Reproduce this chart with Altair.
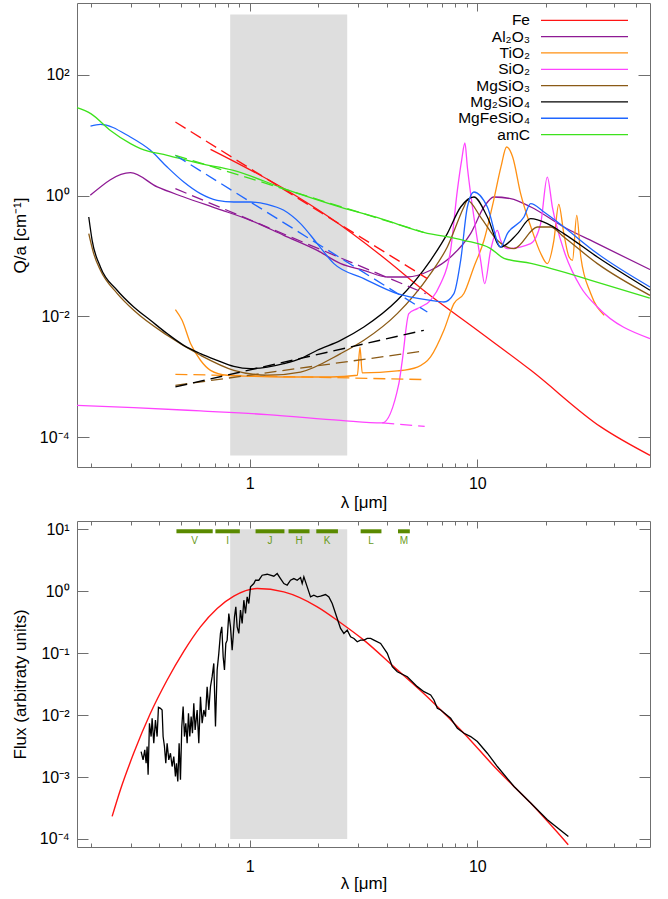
import altair as alt
import numpy as np
import pandas as pd

FONT = "Liberation Sans"
FRAME = "#6f6f6f"

# ---------------- axes (shared wavelength axis) ----------------
x_domain = [0.174, 57.4]
x_major = [1, 10]
x_major_labels = ["1", "10"]
x_minor = [0.2, 0.3, 0.4, 0.5, 0.6, 0.7, 0.8, 0.9, 2, 3, 4, 5, 6, 7, 8, 9, 20, 30, 40, 50]

q_domain = [3.21e-5, 1545]
q_major = [1e-4, 1e-2, 1, 1e2]
q_major_labels = ["10⁻⁴", "10⁻²", "10⁰", "10²"]

flux_domain = [7.41e-5, 13.6]
flux_major = [1e-4, 1e-3, 1e-2, 1e-1, 1, 10]
flux_major_labels = ["10⁻⁴", "10⁻³", "10⁻²", "10⁻¹", "10⁰", "10¹"]

shade_lam = [0.82, 2.68]
shade_q = [5.0e-5, 1.0e3]
shade_flux = [1.0e-4, 10.0]

# ---------------- top panel: Q/a curves ----------------
series_names = ["Fe", "Al₂O₃", "TiO₂", "SiO₂", "MgSiO₃", "Mg₂SiO₄", "MgFeSiO₄", "amC"]
series_colors = ["#ff1414", "#8e1a94", "#ff9012", "#ff44ff", "#8a5a16", "#000000", "#1f66ff", "#3de21c"]

fe_lam = [0.672, 1.41, 2.27, 3.76, 6.03, 10.0, 17.2, 34.9, 57.4]
fe_q = [5.84, 1.31, 0.421, 0.103, 0.0241, 0.00589, 0.00128, 0.000148, 0.00005]

al_lam = [0.199, 0.299, 0.392, 0.513, 0.719, 1.007, 1.41, 1.98, 2.51, 3.17, 4.02, 4.92, 6.23, 7.63,
          9.34, 10.7, 11.8, 14.0, 17.2, 24.0, 33.7, 57.4]
al_q = [1.01, 2.40, 1.39, 0.948, 0.609, 0.39, 0.22, 0.124, 0.0748, 0.058, 0.0449, 0.0449, 0.058, 0.0962,
        0.235, 0.648, 0.948, 0.892, 0.648, 0.302, 0.160, 0.0596]

ti_lam = [0.471, 0.504, 0.549, 0.607, 0.672, 0.796, 1.007, 1.41, 2.27, 2.97, 3.05, 3.12, 4.45, 5.45,
          6.23, 7.13, 7.89, 8.73, 9.66, 10.7, 11.8, 12.7, 13.45, 14.3, 15.5, 17.2, 19.0, 20.3, 21.7,
          22.8, 24.0, 25.3, 26.2, 27.35, 28.5, 31.5, 36.1]
ti_q = [0.013, 0.00862, 0.00355, 0.00188, 0.00128, 0.00106, 0.00102, 0.000993, 0.000993, 0.00106,
        0.00311, 0.00116, 0.00125, 0.00145, 0.00213, 0.00589, 0.0163, 0.0239, 0.0658, 0.182, 0.836,
        2.98, 6.38, 4.36, 1.08, 0.302, 0.110, 0.0748, 0.182, 0.718, 0.235, 0.0962, 0.0849, 0.472,
        0.0962, 0.0239, 0.0104]

si_lam = [0.174, 0.309, 0.607, 1.193, 2.51, 3.82, 4.52, 4.68, 5.0, 5.45, 6.23, 6.90, 7.63, 8.17, 8.53,
          8.82, 9.04, 9.66, 10.34, 10.77, 11.44, 12.24, 12.66, 13.55, 17.15, 18.98, 20.3, 21.37, 24.0,
          28.46, 33.7, 57.4]
si_q = [3.37e-4, 3.09e-4, 2.72e-4, 2.37e-4, 1.9e-4, 1.72e-4, 7.7e-4, 1.875e-3, 0.0111, 0.01346,
        0.01848, 0.0349, 0.1243, 1.224, 3.84, 7.43, 2.975, 0.442, 0.0849, 0.0349, 0.1243, 0.2664, 0.182,
        0.1326, 0.1604, 0.344, 2.03, 0.6475, 0.1243, 0.0307, 0.01432, 4.29e-3]

br_lam = [0.196, 0.206, 0.2205, 0.261, 0.309, 0.433, 0.607, 0.851, 1.193, 1.671, 2.506, 3.172, 4.447,
          6.23, 7.38, 8.73, 9.04, 10.34, 12.24, 14.49, 18.36, 21.0, 24.0, 33.7, 57.4]
br_q = [0.235, 0.1096, 0.058, 0.0241, 0.01262, 4.87e-3, 2.27e-3, 1.28e-3, 1.06e-3, 1.2e-3, 2.42e-3,
        4.02e-3, 0.0111, 0.0511, 0.141, 0.6475, 0.836, 0.442, 0.182, 0.1326, 0.302, 0.302, 0.2063,
        0.0748, 0.0223]

bk_lam = [0.196, 0.2028, 0.2205, 0.2611, 0.309, 0.3658, 0.4333, 0.5126, 0.6069, 0.7188, 0.8505, 1.007,
          1.193, 1.411, 1.671, 1.979, 2.506, 3.172, 4.447, 6.23, 7.38, 8.45, 9.66, 11.07, 12.66, 15.0,
          17.15, 20.3, 24.0, 33.7, 57.4]
bk_q = [0.442, 0.182, 0.0658, 0.0271, 0.01432, 8.62e-3, 5.19e-3, 3.32e-3, 2.42e-3, 1.875e-3, 1.49e-3,
        1.37e-3, 1.45e-3, 1.655e-3, 2.0e-3, 2.75e-3, 4.02e-3, 6.68e-3, 0.01848, 0.0849, 0.235, 0.6475,
        0.948, 0.442, 0.141, 0.235, 0.416, 0.344, 0.235, 0.0962, 0.0271]

bl_lam = [0.1995, 0.2205, 0.2985, 0.3658, 0.4333, 0.5126, 0.6069, 0.7188, 0.8505, 1.007, 1.193, 1.411,
          1.671, 1.979, 2.342, 3.172, 4.447, 6.23, 7.13, 7.89, 8.45, 9.04, 9.66, 11.07, 12.66, 13.55,
          16.03, 17.15, 19.63, 24.0, 33.7, 57.4]
bl_q = [14.2, 15.1, 9.34, 5.62, 2.975, 1.68, 1.079, 0.836, 0.783, 0.783, 0.718, 0.571, 0.344, 0.1604,
        0.0748, 0.0423, 0.02385, 0.01848, 0.01731, 0.02385, 0.0849, 0.6475, 1.147, 0.6475, 0.141, 0.235,
        0.442, 0.737, 0.535, 0.302, 0.1096, 0.0307]

am_lam = [0.174, 0.2, 0.244, 0.299, 0.331, 0.434, 0.607, 0.848, 1.41, 2.50, 3.76, 5.81, 8.71, 11.4,
          13.1, 17.2, 33.8, 57.3]
am_q = [28.6, 22.8, 12.0, 7.26, 6.0, 4.65, 3.39, 2.62, 1.31, 0.647, 0.416, 0.247, 0.182, 0.134,
        0.0916, 0.0757, 0.0367, 0.020]

solid_lam = [fe_lam, al_lam, ti_lam, si_lam, br_lam, bk_lam, bl_lam, am_lam]
solid_q = [fe_q, al_q, ti_q, si_q, br_q, bk_q, bl_q, am_q]

# dashed power-law fits: (start lambda, start Q, end lambda, end Q) per series
dash_lam0 = [0.471, 0.471, 0.471, 3.82, 0.471, 0.471, 0.471, 0.471]
dash_q0 = [16.5, 1.306, 1.10e-3, 1.72e-4, 7.2e-4, 6.8e-4, 4.65, 4.65]
dash_lam1 = [6.03, 5.93, 5.93, 5.87, 5.82, 5.82, 6.03, 5.80]
dash_q1 = [0.0422, 0.02385, 8.99e-4, 1.51e-4, 2.67e-3, 5.89e-3, 0.01183, 0.247]

# ---------------- bottom panel ----------------
planck_lam = [0.2483, 0.27, 0.309, 0.3658, 0.4333, 0.5126, 0.6069, 0.7188, 0.8505, 1.078, 1.411,
              1.979, 2.506, 3.172, 4.30, 6.23, 8.73, 12.24, 17.15, 25.1]
planck_flux = [2.31e-4, 6.22e-4, 2.43e-3, 0.01069, 0.0368, 0.107, 0.266, 0.526, 0.831, 1.105, 0.974,
               0.56, 0.31, 0.1623, 0.06, 0.01752, 5.09e-3, 1.305e-3, 3.79e-4, 8.07e-5]

# observed spectrum, read as (log10 lambda, log10 flux)
spectrum = [
    (-0.4777, -2.589), (-0.469, -2.723), (-0.4616, -2.562), (-0.4557, -2.777), (-0.4513, -2.508),
    (-0.4469, -2.965), (-0.441, -2.132), (-0.4337, -2.347), (-0.4293, -2.052), (-0.422, -2.455),
    (-0.4147, -2.079), (-0.4073, -2.347), (-0.4015, -1.875), (-0.3927, -1.891), (-0.3854, -1.918),
    (-0.381, -2.347), (-0.3751, -2.508), (-0.3692, -2.777), (-0.3634, -2.455), (-0.356, -2.723),
    (-0.3487, -2.616), (-0.3414, -2.831), (-0.3341, -2.669), (-0.3268, -2.992), (-0.3223, -2.777),
    (-0.3165, -3.072), (-0.3106, -2.455), (-0.3047, -3.045), (-0.2989, -2.186), (-0.293, -1.864),
    (-0.2871, -2.347), (-0.2813, -2.132), (-0.2754, -2.455), (-0.2695, -1.971), (-0.2637, -2.347),
    (-0.2578, -2.025), (-0.252, -2.293), (-0.2461, -1.810), (-0.2402, -2.240), (-0.2314, -1.918),
    (-0.2241, -2.455), (-0.2168, -1.703), (-0.2094, -2.132), (-0.2021, -1.918), (-0.1948, -2.025),
    (-0.1875, -1.542), (-0.1801, -1.918), (-0.1728, -1.542), (-0.1655, -1.380), (-0.1582, -1.166),
    (-0.1508, -2.186), (-0.1435, -1.273), (-0.1362, -1.004), (-0.1289, -0.682), (-0.123, -0.575),
    (-0.1171, -1.058), (-0.1113, -1.273), (-0.1054, -0.843), (-0.0995, -0.790), (-0.0922, -0.360),
    (-0.0849, -0.575), (-0.0775, -0.951), (-0.0731, -0.736), (-0.0673, -0.414), (-0.0614, -0.252),
    (-0.0556, -0.575), (-0.0482, -0.682), (-0.0409, -0.306), (-0.0336, -0.521), (-0.0262, -0.145),
    (-0.0189, -0.360), (-0.0116, -0.0913), (-0.0043, -0.199), (0.0031, 0.0698), (0.0177, 0.1235),
    (0.0251, 0.1772), (0.0397, 0.1772), (0.0544, 0.2578), (0.0764, 0.2739), (0.1057, 0.2417),
    (0.1204, 0.2847), (0.135, 0.2041), (0.1497, 0.1235), (0.1643, 0.0967), (0.179, 0.1772),
    (0.1937, 0.2041), (0.2083, 0.1772), (0.223, 0.2202), (0.2303, 0.1235), (0.2376, 0.231),
    (0.2523, 0.0698), (0.2669, -0.0913), (0.2816, -0.0645), (0.2963, -0.0913), (0.3109, -0.0806),
    (0.3329, -0.0537), (0.3476, -0.0913), (0.3622, -0.199), (0.3769, -0.360), (0.3915, -0.521),
    (0.3989, -0.6016), (0.4135, -0.682), (0.4284, -0.628), (0.443, -0.736), (0.4577, -0.763),
    (0.4723, -0.8164), (0.487, -0.790), (0.5017, -0.790), (0.5163, -0.763), (0.531, -0.763),
    (0.5456, -0.790), (0.575, -0.843), (0.6043, -1.004), (0.6263, -1.219), (0.6483, -1.300),
    (0.6923, -1.380), (0.7362, -1.541), (0.7655, -1.622), (0.7949, -1.676), (0.8095, -1.756),
    (0.8242, -1.891), (0.8389, -1.918), (0.8828, -2.052), (0.9122, -2.213), (0.9415, -2.293),
    (0.9708, -2.347), (1.0001, -2.428), (1.044, -2.616), (1.088, -2.831), (1.1613, -3.153),
    (1.2346, -3.421), (1.3079, -3.690), (1.4002, -3.959),
]

band_names = ["V", "I", "J", "H", "K", "L", "M"]
band_lo = [0.476, 0.706, 1.06, 1.48, 1.96, 3.07, 4.48]
band_hi = [0.687, 0.904, 1.42, 1.83, 2.44, 3.79, 5.05]

# ---------------- build tables ----------------
rows = []
for name, lams, qs in zip(series_names, solid_lam, solid_q):
    for i, (l, q) in enumerate(zip(lams, qs)):
        rows.append({"series": name, "lam": l, "q": q, "i": i})
solid_df = pd.DataFrame(rows)

drows = []
for name, l0, q0, l1, q1 in zip(series_names, dash_lam0, dash_q0, dash_lam1, dash_q1):
    drows.append({"series": name, "lam": l0, "q": q0})
    drows.append({"series": name, "lam": l1, "q": q1})
dash_df = pd.DataFrame(drows)

legend_df = pd.DataFrame({"series": series_names})
shade_top_df = pd.DataFrame({"lo": [shade_lam[0]], "hi": [shade_lam[1]], "ylo": [shade_q[0]], "yhi": [shade_q[1]]})
shade_bot_df = pd.DataFrame({"lo": [shade_lam[0]], "hi": [shade_lam[1]], "ylo": [shade_flux[0]], "yhi": [shade_flux[1]]})
planck_df = pd.DataFrame({"lam": planck_lam, "flux": planck_flux})
spec_arr = np.array(spectrum)
spec_df = pd.DataFrame({"lam": 10 ** spec_arr[:, 0], "flux": 10 ** spec_arr[:, 1], "i": np.arange(len(spec_arr))})
band_df = pd.DataFrame({"band": band_names, "lo": band_lo, "hi": band_hi})


def label_expr(vals, labs):
    expr = "''"
    for v, lab in zip(vals, labs):
        expr = f"(abs(log(datum.value) - log({v!r})) < 0.01) ? '{lab}' : {expr}"
    return expr


def ax(orient, values, size, labels=False, title=None, lexpr=None, lpad=7, tpad=4):
    kw = dict(orient=orient, values=values, tickSize=size, offset=-size, domain=False, grid=False,
              ticks=True, tickColor=FRAME, tickWidth=1, labels=labels, title=title)
    if labels:
        kw.update(labelExpr=lexpr, labelFont=FONT, labelFontSize=16, labelColor="black",
                  labelPadding=lpad, labelFlush=False, labelOverlap=False)
    if title:
        kw.update(titleFont=FONT, titleFontSize=17, titleFontWeight="normal", titleColor="black",
                  titlePadding=tpad)
    return alt.Axis(**kw)


x_scale = alt.Scale(type="log", domain=x_domain, nice=False)
q_scale = alt.Scale(type="log", domain=q_domain, nice=False)
f_scale = alt.Scale(type="log", domain=flux_domain, nice=False)
color_scale = alt.Scale(domain=series_names, range=series_colors)
xlab = label_expr(x_major, x_major_labels)

# ---------------- top panel ----------------
top_shade = alt.Chart(shade_top_df).mark_rect(color="#dedede").encode(
    x=alt.X("lo:Q", scale=x_scale, axis=ax("bottom", x_major, 8, True, "λ [μm]", xlab, 8, 3)),
    x2="hi",
    y=alt.Y("ylo:Q", scale=q_scale,
            axis=ax("left", q_major, 12, True, "Q/a [cm⁻¹]", label_expr(q_major, q_major_labels), 8, 10)),
    y2="yhi",
)
top_solid = alt.Chart(solid_df).mark_line(strokeWidth=1.3, interpolate="monotone").encode(
    x=alt.X("lam:Q", scale=x_scale, axis=ax("top", x_major, 8)),
    y=alt.Y("q:Q", scale=q_scale, axis=ax("right", q_major, 12)),
    color=alt.Color("series:N", scale=color_scale, legend=None),
    order="i:Q",
)
top_dash = alt.Chart(dash_df).mark_line(strokeWidth=1.3, strokeDash=[12, 6]).encode(
    x=alt.X("lam:Q", scale=x_scale, axis=ax("bottom", x_minor, 4)),
    y=alt.Y("q:Q", scale=q_scale, axis=None),
    color=alt.Color("series:N", scale=color_scale, legend=None),
)
top_minor = alt.Chart(shade_top_df).mark_point(opacity=0).encode(
    x=alt.X("lo:Q", scale=x_scale, axis=ax("top", x_minor, 4)),
)
leg_y = alt.Y("series:N", scale=alt.Scale(type="point", domain=series_names, range=[17.3, 131.6], padding=0),
              axis=None)
leg_rule = alt.Chart(legend_df).mark_rule(strokeWidth=1.3).encode(
    x=alt.value(464), x2=alt.value(551), y=leg_y,
    color=alt.Color("series:N", scale=color_scale, legend=None),
)
leg_text = alt.Chart(legend_df).mark_text(align="right", baseline="middle", font=FONT, fontSize=15.5,
                                          color="black").encode(
    x=alt.value(453), y=leg_y, text="series:N",
)
top = alt.layer(top_shade, top_solid, top_dash, top_minor, leg_rule, leg_text).resolve_scale(
    y="independent").resolve_axis(x="independent", y="independent").properties(width=573, height=464)

# ---------------- bottom panel ----------------
bot_shade = alt.Chart(shade_bot_df).mark_rect(color="#dedede").encode(
    x=alt.X("lo:Q", scale=x_scale, axis=ax("bottom", x_major, 7, True, "λ [μm]", xlab, 11, 1)),
    x2="hi",
    y=alt.Y("ylo:Q", scale=f_scale,
            axis=ax("left", flux_major, 11, True, "Flux (arbitraty units)",
                    label_expr(flux_major, flux_major_labels), 8, 10)),
    y2="yhi",
)
bot_planck = alt.Chart(planck_df).mark_line(color="#ff1414", strokeWidth=1.4, interpolate="monotone").encode(
    x=alt.X("lam:Q", scale=x_scale, axis=ax("top", x_major, 7)),
    y=alt.Y("flux:Q", scale=f_scale, axis=ax("right", flux_major, 11)),
)
bot_spec = alt.Chart(spec_df).mark_line(color="black", strokeWidth=1.3).encode(
    x=alt.X("lam:Q", scale=x_scale, axis=ax("bottom", x_minor, 4)),
    y=alt.Y("flux:Q", scale=f_scale, axis=None),
    order="i:Q",
)
bot_bands = alt.Chart(band_df).mark_rule(color="#5a8a00", strokeWidth=4).encode(
    x=alt.X("lo:Q", scale=x_scale, axis=ax("top", x_minor, 4)),
    x2="hi",
    y=alt.value(10.3),
)
bot_band_text = alt.Chart(band_df).transform_calculate(mid="sqrt(datum.lo * datum.hi)").mark_text(
    font=FONT, fontSize=10, color="#6a9a1a", baseline="middle").encode(
    x=alt.X("mid:Q", scale=x_scale, axis=None),
    y=alt.value(20.3),
    text="band:N",
)
bottom = alt.layer(bot_shade, bot_planck, bot_spec, bot_bands, bot_band_text).resolve_axis(
    x="independent", y="independent").properties(width=573, height=326)

chart = alt.vconcat(top, bottom, spacing=54, bounds="flush").configure_view(
    stroke=FRAME, strokeWidth=1).properties(padding={"left": 10, "top": 2, "right": 10, "bottom": 5})

chart.save("out.html", embed_options={"renderer": "svg", "actions": False})
